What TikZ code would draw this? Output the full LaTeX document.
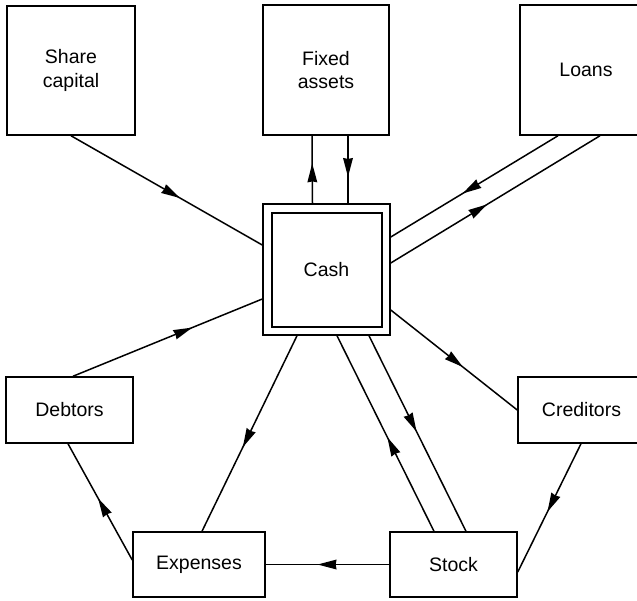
\documentclass[tikz,border=0pt]{standalone}
\usepackage{fontspec}
\setmainfont{Liberation Sans}
\usetikzlibrary{decorations.markings}

\begin{document}
\begin{tikzpicture}[x=1pt,y=-1pt,line width=1.5pt,
  box/.style={draw,rectangle,inner sep=0pt,align=center,
    font=\fontsize{19.5}{23.5}\selectfont},
  flow/.style={postaction={decorate},
    decoration={markings,mark=at position #1 with
      {\fill (0pt,0pt) -- (-19pt,5pt) -- (-18pt,0pt) -- (-19pt,-5pt) -- cycle;}}}]

\useasboundingbox (0,0) rectangle (637,600);
\clip (0,0) rectangle (637,600);

% accounts
\node[box,minimum width=128pt,minimum height=129pt] (share) at (71,70.5) {Share\\capital};
\node[box,minimum width=126pt,minimum height=130pt] (fixed) at (326,70) {Fixed\\assets};
\node[box,minimum width=132pt,minimum height=130pt] (loans) at (586,70) {Loans};
\node[box,minimum width=127pt,minimum height=131pt] (cash) at (326.5,269.5) {Cash};
\node[draw,rectangle,minimum width=110pt,minimum height=114pt] (cashin) at (327,270) {};
\node[box,minimum width=127pt,minimum height=66pt] (debtors) at (69.5,410) {Debtors};
\node[box,minimum width=127pt,minimum height=66pt] (creditors) at (581.5,410) {Creditors};
\node[box,minimum width=132pt,minimum height=65pt] (expenses) at (199,564.5) {Expenses};
\node[box,minimum width=127pt,minimum height=65pt] (stock) at (453.5,564.5) {Stock};

% flows of money
\draw[flow=0.57] (share.south) -- ([yshift=24.5pt]cash.west);
\draw[flow=0.59] ([xshift=-14pt]cash.north) -- ([xshift=-14pt]fixed.south);
\draw[flow=0.61] ([xshift=22pt]fixed.south) -- ([xshift=21.5pt]cash.north);
\draw[flow=0.57] ([xshift=-28pt]loans.south) -- ([yshift=32.5pt]cash.east);
\draw[flow=0.46] ([yshift=6.5pt]cash.east) -- ([xshift=14pt]loans.south);
\draw[flow=0.57] ([yshift=-40.5pt]cash.east) -- (creditors.west);
\draw[flow=0.49] ([xshift=42.5pt]cash.south) -- ([xshift=12.5pt]stock.north);
\draw[flow=0.48] ([xshift=-19.5pt]stock.north) -- ([xshift=10.5pt]cash.south);
\draw[flow=0.57] ([xshift=-29.5pt]cash.south) -- ([xshift=3pt]expenses.north);
\draw[flow=0.53] ([xshift=-0.5pt]creditors.south) -- ([yshift=-7.5pt]stock.east);
\draw[flow=0.58] (stock.west) -- (expenses.east);
\draw[flow=0.53] ([yshift=4.5pt]expenses.west) -- ([xshift=-1.5pt]debtors.south);
\draw[flow=0.63] ([xshift=3.5pt]debtors.north) -- ([yshift=-29.5pt]cash.west);

\end{tikzpicture}
\end{document}
